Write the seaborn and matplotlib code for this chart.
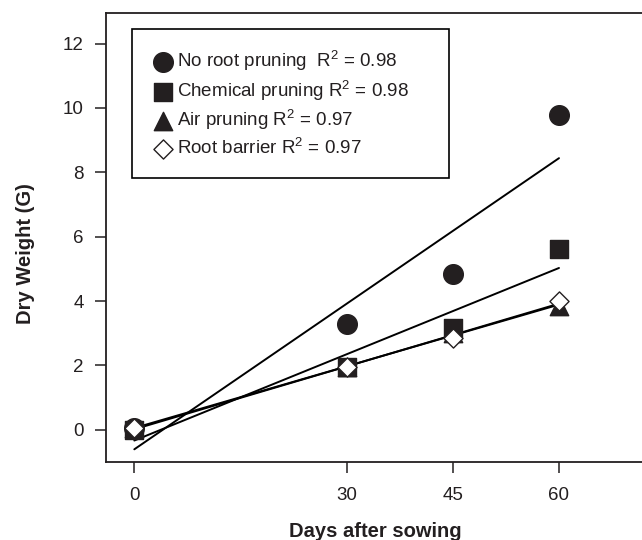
import numpy as np
import pandas as pd
import matplotlib
matplotlib.use("Agg")
import matplotlib.pyplot as plt
import seaborn as sns

# data
days = [0, 30, 45, 60]
no_root = [0.05, 3.28, 4.83, 9.77]
chemical = [0.0, 1.95, 3.15, 5.63]
air = [0.05, 1.95, 3.0, 3.85]
barrier = [0.05, 1.95, 2.85, 4.0]

labels = ["No root pruning  R$^{2}$ = 0.98",
          "Chemical pruning R$^{2}$ = 0.98",
          "Air pruning R$^{2}$ = 0.97",
          "Root barrier R$^{2}$ = 0.97"]
x_ticks = [0, 30, 45, 60]
y_ticks = [0, 2, 4, 6, 8, 10, 12]

sns.set_style("ticks")
plt.rcParams["font.family"] = ["Liberation Sans", "DejaVu Sans"]
plt.rcParams["mathtext.fontset"] = "custom"
plt.rcParams["mathtext.rm"] = "Liberation Sans"
plt.rcParams["mathtext.it"] = "Liberation Sans"
ink = "#231f20"

fig = plt.figure(figsize=(6.42, 5.4), dpi=100)
ax = fig.add_axes([106 / 642, 1 - 462 / 540, 1.003 - 106 / 642, (462 - 13) / 540])

series = [no_root, chemical, air, barrier]
markers = ["o", "s", "^", "D"]
sizes = [200, 175, 175, 95]
faces = [ink, ink, ink, "white"]

df = pd.DataFrame({"days": days})
for vals, lab, m, s, fc in zip(series, labels, markers, sizes, faces):
    df["y"] = vals
    # least-squares trend line for each treatment
    sns.regplot(data=df, x="days", y="y", scatter=False, ci=None, truncate=True,
                color="black", line_kws={"lw": 1.4, "zorder": 2}, ax=ax)
    sns.scatterplot(data=df, x="days", y="y", marker=m, s=s, color=fc,
                    edgecolor=ink, linewidth=1.0, label=lab, zorder=3, ax=ax)

ax.set_xlim(-4, 72)
ax.set_ylim(-1, 12.95)
ax.set_xticks(x_ticks)
ax.set_yticks(y_ticks)
ax.tick_params(axis="both", length=8, width=1.1, color=ink, labelsize=13.5,
               labelcolor=ink)
ax.tick_params(axis="x", pad=10)
ax.tick_params(axis="y", pad=8)
for sp in ax.spines.values():
    sp.set_linewidth(1.3)
    sp.set_color(ink)

ax.set_xlabel("Days after sowing", fontsize=14.5, fontweight="bold", color=ink)
ax.set_ylabel("Dry Weight (G)", fontsize=14.5, fontweight="bold", color=ink)
ax.xaxis.set_label_coords(0.5, -(537 - 462) / 449)
ax.yaxis.set_label_coords(-(106 - 26) / 536, (462 - 254) / 449)
ax.xaxis.label.set_va("baseline")
ax.yaxis.label.set_va("center")

leg = ax.legend(loc="upper left",
                bbox_to_anchor=((132 - 106) / 536, 0, (448 - 132) / 536, (462 - 29) / 449),
                mode="expand", borderaxespad=0, fontsize=13.5, frameon=True,
                fancybox=False, edgecolor="black", framealpha=1,
                handletextpad=0.1, labelspacing=0.3, borderpad=1.05,
                handlelength=1.25)
leg.get_frame().set_linewidth(1.2)
for t in leg.get_texts():
    t.set_color(ink)

fig.savefig("out.png", dpi=100)
